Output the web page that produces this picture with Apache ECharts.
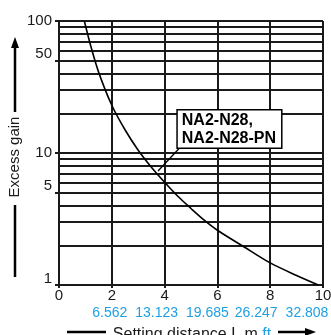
<!DOCTYPE html>
<html>
<head>
<meta charset="utf-8">
<script src="https://cdn.jsdelivr.net/npm/echarts@6/dist/echarts.min.js"></script>
<style>
html,body{margin:0;padding:0;background:#fff;}
#c{width:331px;height:335px;}
</style>
</head>
<body>
<div id="c"></div>
<script>
// Data
const distanceM = [0.96, 1.2, 1.5, 2.0, 2.5, 3.0, 3.5, 4.0, 4.5, 5.0, 5.5, 6.0, 7.0, 8.0, 9.0, 9.82];
const excessGain = [100, 65, 41, 23, 15, 10.5, 7.8, 6, 4.7, 3.8, 3.1, 2.6, 1.95, 1.47, 1.18, 1];
const xTicks = [0, 2, 4, 6, 8, 10];
const ftLabels = ['', '6.562', '13.123', '19.685', '26.247', '32.808'];
const yGridValues = [1,2,3,4,5,6,7,8,9,10,20,30,40,50,60,70,80,90,100];
const yLabelValues = [1, 5, 10, 50, 100];
const seriesName = 'NA2-N28,\nNA2-N28-PN';

const FONT = 'Liberation Sans, Arial, sans-serif';
const BLUE = '#1f9fe3';
const INK = '#1a1a1a';
// left shift (px) of each feet label relative to its metre tick, as in the reference
const ftShift = [0, 2, 8, 10, 14, 16];

const chart = echarts.init(document.getElementById('c'), null, {renderer: 'canvas'});

const ftRich = {};
ftShift.forEach((s, i) => {
  ftRich['f' + i] = {color: BLUE, fontSize: 14, fontFamily: FONT, padding: [0, 2 * s, 0, 0]};
});

const option = {
  animation: false,
  backgroundColor: '#fff',
  grid: {left: 59, right: 8, top: 21, bottom: 50, containLabel: false, outerBoundsMode: 'none'},
  xAxis: [
    {
      type: 'value', min: 0, max: 10, interval: 2,
      axisLine: {show: true, lineStyle: {color: INK, width: 2}},
      axisTick: {show: true, length: 3, lineStyle: {color: INK, width: 2}},
      axisLabel: {color: INK, fontSize: 15, fontFamily: FONT, margin: 3},
      splitLine: {show: true, lineStyle: {color: INK, width: 2}}
    },
    {
      type: 'value', min: 0, max: 10, interval: 2, position: 'bottom', offset: 19,
      axisLine: {show: false}, axisTick: {show: false}, splitLine: {show: false},
      axisLabel: {
        color: BLUE, fontSize: 14, fontFamily: FONT, margin: 2,
        formatter: v => {
          const i = xTicks.indexOf(v);
          return ftLabels[i] ? '{f' + i + '|' + ftLabels[i] + '}' : '';
        },
        rich: ftRich
      }
    }
  ],
  yAxis: [
    {
      type: 'log', logBase: 10, min: 1, max: 100,
      axisLine: {show: true, lineStyle: {color: INK, width: 2}},
      axisTick: {show: false, customValues: yGridValues},
      axisLabel: {
        customValues: yLabelValues,
        color: INK, fontSize: 15, fontFamily: FONT, margin: 7,
        formatter: v => (v === 10 || v === 100) ? '{n|' + v + '}' : (v === 1 ? '{o|' + v + '}' : '{u|' + v + '}'),
        rich: {
          n: {fontSize: 15, fontFamily: FONT, color: INK},
          u: {fontSize: 15, fontFamily: FONT, color: INK, padding: [0, 0, 14, 0]},
          o: {fontSize: 15, fontFamily: FONT, color: INK, padding: [0, 0, 12, 0]}
        }
      },
      splitLine: {show: true, lineStyle: {color: INK, width: 2}}
    },
    {
      type: 'log', logBase: 10, min: 1, max: 100, position: 'left', offset: 0,
      axisLine: {show: false},
      axisTick: {show: true, length: 4, customValues: yLabelValues, lineStyle: {color: INK, width: 2}},
      axisLabel: {show: false},
      splitLine: {show: false}
    }
  ],
  series: [{
    name: seriesName,
    type: 'line',
    xAxisIndex: 0, yAxisIndex: 0,
    data: distanceM.map((x, i) => [x, excessGain[i]]),
    smooth: 0.3,
    symbol: 'none',
    lineStyle: {color: '#000', width: 1.6},
    z: 5
  }]
};
chart.setOption(option);

// Callout anchored in data coordinates
const boxAt = [4.5, 21];
const leaderFrom = [4.62, 11.2];
const leaderTo = [3.75, 7.3];
const pB = chart.convertToPixel({seriesIndex: 0}, boxAt);
const p1 = chart.convertToPixel({seriesIndex: 0}, leaderFrom);
const p2 = chart.convertToPixel({seriesIndex: 0}, leaderTo);

chart.setOption({
  graphic: [
    {type: 'line', shape: {x1: p1[0], y1: p1[1], x2: p2[0], y2: p2[1]},
     style: {stroke: '#000', lineWidth: 1.3}, z: 10},
    {type: 'text', x: pB[0], y: pB[1], z: 11,
     style: {text: seriesName, fontSize: 16, fontWeight: 'bold', fontFamily: FONT, fill: '#000',
             lineHeight: 18, backgroundColor: '#fff', borderColor: '#000', borderWidth: 1.5,
             padding: [1, 5, 0, 4]}},
    {type: 'line', shape: {x1: 15, y1: 112, x2: 15, y2: 44}, style: {stroke: '#000', lineWidth: 2.5}},
    {type: 'polygon', shape: {points: [[15, 37], [11, 48], [19, 48]]}, style: {fill: '#000'}},
    {type: 'line', shape: {x1: 15, y1: 205, x2: 15, y2: 277}, style: {stroke: '#000', lineWidth: 2.5}},
    {type: 'text', x: 15, y: 157, rotation: Math.PI / 2,
     style: {text: 'Excess gain', fontSize: 15, fontFamily: FONT, fill: INK, align: 'center', verticalAlign: 'middle'}},
    {type: 'line', shape: {x1: 67, y1: 332, x2: 106, y2: 332}, style: {stroke: '#000', lineWidth: 2.5}},
    {type: 'line', shape: {x1: 278, y1: 332, x2: 308, y2: 332}, style: {stroke: '#000', lineWidth: 2.5}},
    {type: 'polygon', shape: {points: [[316, 332], [305, 328], [305, 336]]}, style: {fill: '#000'}},
    {type: 'text', x: 192, y: 327,
     style: {text: '{a|Setting distance L m }{b|ft}', align: 'center', verticalAlign: 'top',
             rich: {a: {fontSize: 16, fontFamily: FONT, fill: INK, color: INK},
                    b: {fontSize: 16, fontFamily: FONT, fill: BLUE, color: BLUE}}}}
  ]
});
</script>
</body>
</html>
